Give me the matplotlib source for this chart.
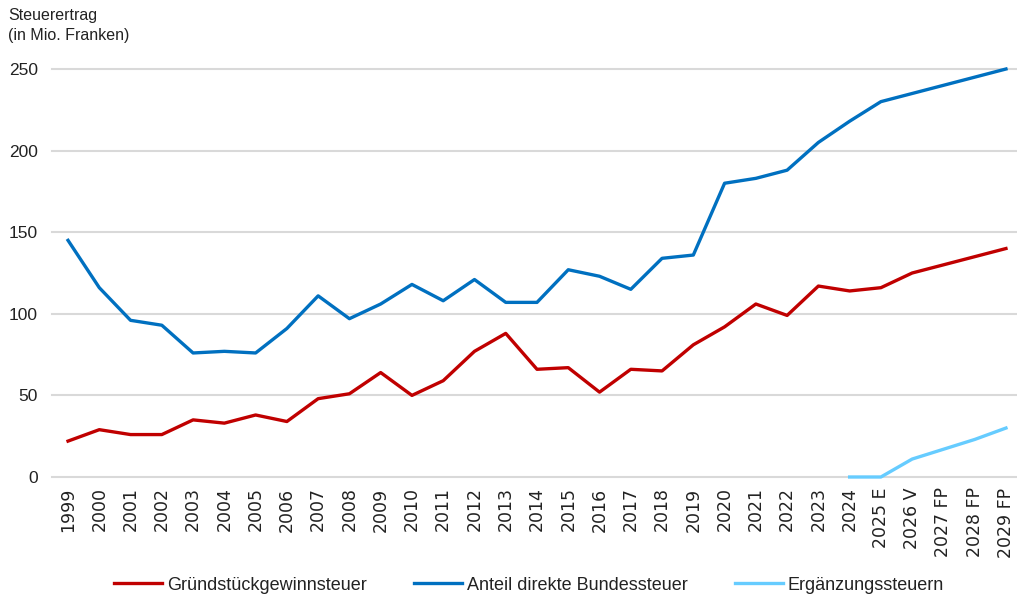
import numpy as np
import matplotlib.pyplot as plt

# Kategorien (x-Achse)
jahre = [str(j) for j in range(1999, 2025)] + ['2025 E', '2026 V', '2027 FP', '2028 FP', '2029 FP']

# Steuerertrag in Mio. Franken
grundstueck = [22, 29, 26, 26, 35, 33, 38, 34, 48, 51, 64, 50, 59, 77, 88, 66, 67, 52, 66, 65,
               81, 92, 106, 99, 117, 114, 116, 125, 130, 135, 140]
bundessteuer = [145, 116, 96, 93, 76, 77, 76, 91, 111, 97, 106, 118, 108, 121, 107, 107, 127, 123, 115, 134,
                136, 180, 183, 188, 205, 218, 230, 235, 240, 245, 250]
ergaenzung_jahre = ['2024', '2025 E', '2026 V', '2027 FP', '2028 FP', '2029 FP']
ergaenzung = [0, 0, 11, 17, 23, 30]

plt.rcParams['font.family'] = ['Liberation Sans', 'DejaVu Sans']

W, H = 1017, 594
fig = plt.figure(figsize=(W / 100, H / 100), dpi=100)
ax = fig.add_axes([52.4 / W, 1 - 477 / H, 969.2 / W, 408 / H])

x = np.arange(len(jahre))
x_erg = [jahre.index(j) for j in ergaenzung_jahre]

ax.plot(x, grundstueck, color='#c00000', lw=2.4, label='Gründstückgewinnsteuer', clip_on=False, zorder=3)
ax.plot(x, bundessteuer, color='#0070c0', lw=2.4, label='Anteil direkte Bundessteuer', clip_on=False, zorder=3)
ax.plot(x_erg, ergaenzung, color='#66ccff', lw=2.4, label='Ergänzungssteuern', clip_on=False, zorder=3)

ax.set_xlim(-0.5, len(jahre) - 0.5)
ax.set_ylim(0, 250)
ax.set_yticks([0, 50, 100, 150, 200, 250])
ax.set_xticks(x)
ax.set_xticklabels(jahre, rotation=90, color='#222222',
                   fontfamily=['DejaVu Sans'], fontsize=12.5)
ax.tick_params(axis='both', length=0, labelcolor='#222222')
ax.tick_params(axis='y', pad=10.5, labelsize=12.5)
ax.tick_params(axis='x', pad=7.5)
for s in ax.spines.values():
    s.set_visible(False)
ax.grid(axis='y', color='#d9d9d9', lw=1.5)
ax.set_axisbelow(True)
for gl in ax.get_ygridlines():
    gl.set_clip_on(False)

fig.text(8 / W, 1 - 8 / H, 'Steuerertrag\n(in Mio. Franken)', ha='left', va='top',
         fontsize=11.5, color='#222222', linespacing=1.4)

leg = fig.legend(loc='center', bbox_to_anchor=(0.52, 1 - 585 / H), ncol=3, frameon=False,
                 prop={'size': 13}, handlelength=2.7, handletextpad=0.25, columnspacing=2.6)
for t in leg.get_texts():
    t.set_color('#222222')

fig.savefig('out.png', dpi=100)
